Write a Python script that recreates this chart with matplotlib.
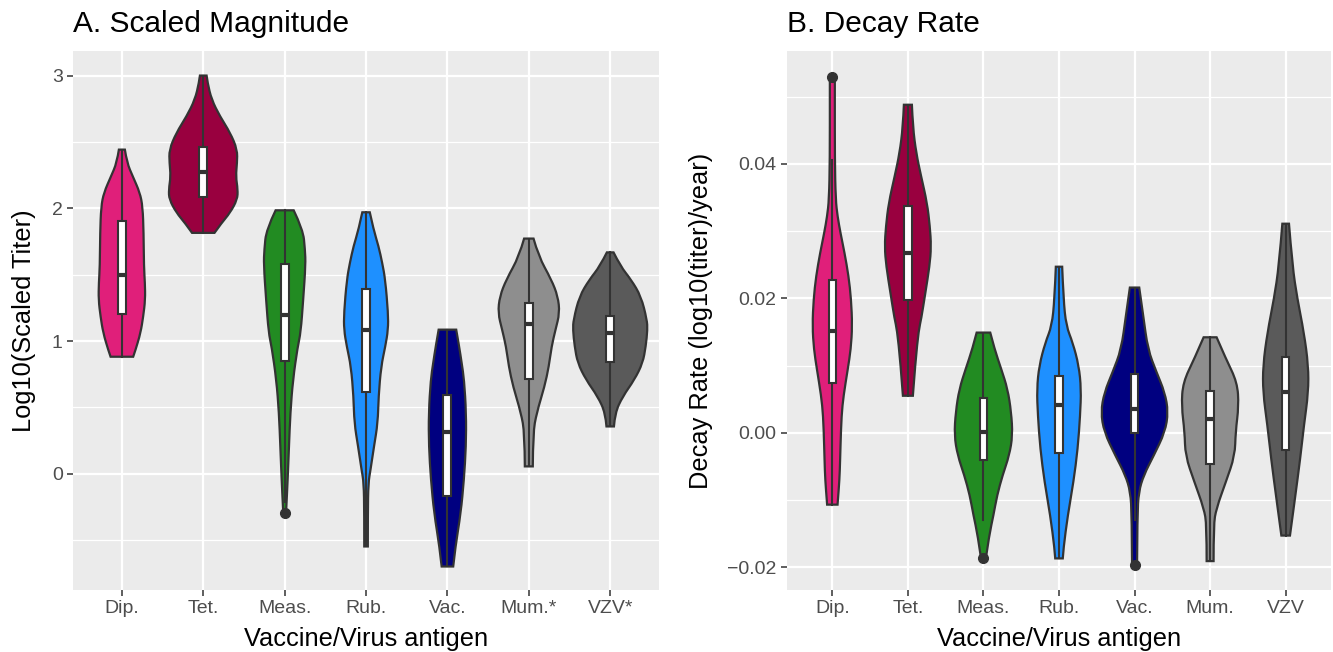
import matplotlib
matplotlib.use('Agg')
import matplotlib.pyplot as plt
from matplotlib.patches import Rectangle, PathPatch
from matplotlib.path import Path
from matplotlib.ticker import FixedLocator

plt.rcParams['font.family'] = ['Liberation Sans', 'DejaVu Sans']

# categories and colours
cats_a = ['Dip.', 'Tet.', 'Meas.', 'Rub.', 'Vac.', 'Mum.*', 'VZV*']
cats_b = ['Dip.', 'Tet.', 'Meas.', 'Rub.', 'Vac.', 'Mum.', 'VZV']
colors = ['#E01F7A', '#99003F', '#228B22', '#1E90FF', '#000080', '#8E8E8E', '#5A5A5A']

# A. violin outlines (y value, half width in category units)
prof_a_y = [
    [2.442, 2.344, 2.239, 2.118, 2.013, 1.817, 1.561, 1.439, 1.312, 1.184, 1.063, 0.935, 0.882],
    [3.0, 2.945, 2.819, 2.693, 2.568, 2.442, 2.342, 2.241, 2.141, 2.066, 1.965, 1.890, 1.815],
    [1.985, 1.840, 1.689, 1.576, 1.312, 1.063, 0.958, 0.709, 0.460, 0.204, -0.044, -0.248, -0.286],
    [1.970, 1.840, 1.714, 1.589, 1.463, 1.212, 1.086, 0.960, 0.809, 0.583, 0.383, 0.207, 0.031, -0.069, -0.293, -0.547],
    [1.086, 0.960, 0.835, 0.709, 0.458, 0.207, -0.044, -0.295, -0.547, -0.698],
    [1.772, 1.639, 1.463, 1.337, 1.212, 1.086, 0.960, 0.809, 0.659, 0.458, 0.307, 0.056],
    [1.668, 1.563, 1.463, 1.337, 1.161, 1.086, 0.960, 0.835, 0.709, 0.583, 0.458, 0.357],
]
prof_a_w = [
    [.037, .062, .135, .221, .255, .267, .271, .283, .287, .262, .230, .169, .139],
    [.041, .053, .102, .205, .332, .418, .415, .400, .424, .418, .328, .225, .138],
    [.111, .225, .250, .257, .228, .197, .160, .102, .070, .053, .037, .021, .018],
    [.046, .092, .154, .199, .236, .271, .271, .237, .185, .154, .144, .098, .055, .028, .022, .022],
    [.108, .144, .175, .205, .230, .228, .203, .164, .098, .071],
    [.058, .119, .277, .357, .379, .328, .280, .246, .194, .096, .052, .049],
    [.041, .127, .256, .379, .451, .458, .437, .400, .298, .154, .059, .046],
]
# whisker low, q1, median, q3, whisker high
box_a = [
    [0.882, 1.207, 1.50, 1.907, 2.442],
    [1.815, 2.083, 2.271, 2.460, 3.0],
    [-0.21, 0.847, 1.199, 1.583, 1.985],
    [-0.547, 0.617, 1.081, 1.393, 1.970],
    [-0.698, -0.165, 0.315, 0.596, 1.086],
    [0.056, 0.714, 1.129, 1.287, 1.772],
    [0.357, 0.840, 1.061, 1.186, 1.668],
]
out_a = [[], [], [-0.295], [], [], [], []]

# B. decay rate
prof_b_y = [
    [0.0530, 0.0505, 0.0406, 0.0347, 0.0322, 0.0297, 0.0268, 0.0233, 0.0199, 0.0159, 0.0124, 0.0095, 0.0055, 0.0026, -0.0019, -0.0058, -0.0083, -0.0107],
    [0.0488, 0.0455, 0.0416, 0.0381, 0.0342, 0.0307, 0.0277, 0.0248, 0.0208, 0.0169, 0.0154, 0.0105, 0.0055],
    [0.0149, 0.0124, 0.0095, 0.0065, 0.0031, -0.0004, -0.0034, -0.0063, -0.0093, -0.0123, -0.0152, -0.0186],
    [0.0247, 0.0199, 0.0159, 0.0134, 0.0100, 0.0065, 0.0026, -0.0024, -0.0073, -0.0123, -0.0172, -0.0187],
    [0.0216, 0.0174, 0.0124, 0.0090, 0.0060, 0.0031, 0.0001, -0.0034, -0.0063, -0.0088, -0.0123, -0.0197],
    [0.0142, 0.0110, 0.0075, 0.0040, 0.0001, -0.0034, -0.0073, -0.0113, -0.0137, -0.0191],
    [0.0311, 0.0248, 0.0199, 0.0149, 0.0100, 0.0060, 0.0011, -0.0039, -0.0098, -0.0153],
]
prof_b_w = [
    [.033, .033, .033, .044, .069, .108, .161, .215, .248, .264, .244, .205, .148, .122, .108, .099, .086, .069],
    [.053, .066, .110, .176, .254, .291, .308, .287, .231, .176, .145, .099, .066],
    [.090, .148, .235, .320, .367, .386, .341, .254, .181, .132, .077, .033],
    [.042, .059, .095, .182, .262, .293, .280, .248, .192, .116, .059, .050],
    [.062, .115, .176, .291, .400, .446, .403, .254, .122, .055, .037, .033],
    [.086, .209, .359, .379, .337, .328, .209, .082, .046, .046],
    [.044, .089, .155, .242, .300, .300, .242, .192, .123, .057],
]
box_b = [
    [-0.0107, 0.00737, 0.0151, 0.0227, 0.0406],
    [0.0055, 0.0197, 0.0267, 0.0337, 0.0488],
    [-0.0130, -0.0040, 0.0001, 0.0052, 0.0149],
    [-0.0187, -0.0030, 0.0042, 0.0084, 0.0247],
    [-0.0130, 0.0000, 0.0035, 0.0087, 0.0216],
    [-0.0191, -0.0046, 0.0020, 0.0062, 0.0142],
    [-0.0153, -0.0025, 0.0061, 0.0113, 0.0311],
]
out_b = [[0.0530], [], [-0.0186], [], [-0.0197], [], []]

yticks_a = [0, 1, 2, 3]
yminor_a = [-0.5, 0.5, 1.5, 2.5]
yticks_b = [-0.02, 0.0, 0.02, 0.04]
yminor_b = [-0.01, 0.01, 0.03, 0.05]

dark = '#333333'


def side(pts):
    # smooth curve through the read points (quadratic pieces between midpoints)
    verts = [pts[0]]
    codes = [Path.LINETO]
    for k in range(1, len(pts) - 1):
        if k < len(pts) - 2:
            end = ((pts[k][0] + pts[k + 1][0]) / 2, (pts[k][1] + pts[k + 1][1]) / 2)
        else:
            end = pts[k + 1]
        verts += [pts[k], end]
        codes += [Path.CURVE3, Path.CURVE3]
    if len(pts) == 2:
        verts.append(pts[1])
        codes.append(Path.LINETO)
    return verts, codes


def violins(ax, py, pw, boxes, outs):
    for i in range(len(py)):
        y = py[i]
        w = pw[i]
        right = [(i + w[k], y[k]) for k in range(len(y))]
        left = [(i - w[k], y[k]) for k in range(len(y))][::-1]
        v1, c1 = side(right)
        v2, c2 = side(left)
        verts = v1 + v2 + [v1[0]]
        codes = [Path.MOVETO] + c1[1:] + c2 + [Path.CLOSEPOLY]
        ax.add_patch(PathPatch(Path(verts, codes), facecolor=colors[i], edgecolor=dark,
                               lw=1.6, zorder=3))
        lo, q1, med, q3, hi = boxes[i]
        ax.plot([i, i], [lo, q1], color=dark, lw=1.5, zorder=4)
        ax.plot([i, i], [q3, hi], color=dark, lw=1.5, zorder=4)
        ax.add_patch(Rectangle((i - 0.05, q1), 0.1, q3 - q1, facecolor='white',
                               edgecolor=dark, lw=1.5, zorder=5))
        ax.plot([i - 0.05, i + 0.05], [med, med], color=dark, lw=3.0,
                solid_capstyle='butt', zorder=6)
        for o in outs[i]:
            ax.plot(i, o, 'o', color=dark, ms=7, zorder=6)


def style(ax, cats, yt, ym, ylabels, ylim, title, ylabel, ypad):
    ax.set_facecolor('#EBEBEB')
    for s in ax.spines.values():
        s.set_visible(False)
    ax.set_xlim(-0.6, len(cats) - 0.4)
    ax.set_ylim(*ylim)
    ax.set_xticks(range(len(cats)))
    ax.set_xticklabels(cats)
    ax.set_yticks(yt)
    ax.set_yticklabels(ylabels)
    ax.yaxis.set_minor_locator(FixedLocator(ym))
    ax.grid(which='major', color='white', lw=1.6, zorder=0)
    ax.grid(which='minor', axis='y', color='white', lw=0.9, zorder=0)
    ax.set_axisbelow(True)
    ax.tick_params(which='major', length=4.5, width=1.1, color=dark, labelsize=14,
                   labelcolor='#4D4D4D', pad=3)
    ax.tick_params(which='minor', length=0)
    ax.set_title(title, loc='left', fontsize=21.5, pad=14)
    ax.set_xlabel('Vaccine/Virus antigen', fontsize=18.3, labelpad=7)
    ax.set_ylabel(ylabel, fontsize=18.3, labelpad=ypad)


fig = plt.figure(figsize=(13.33, 6.52), dpi=100)
ax1 = fig.add_axes([0.0548, 0.0951, 0.4396, 0.8267])
ax2 = fig.add_axes([0.5904, 0.0951, 0.4081, 0.8267])

violins(ax1, prof_a_y, prof_a_w, box_a, out_a)
style(ax1, cats_a, yticks_a, yminor_a, ['0', '1', '2', '3'], (-0.875, 3.185),
      'A. Scaled Magnitude', 'Log10(Scaled Titer)', 11)

violins(ax2, prof_b_y, prof_b_w, box_b, out_b)
style(ax2, cats_b, yticks_b, yminor_b, ['\u22120.02', '0.00', '0.02', '0.04'],
      (-0.0234, 0.0568), 'B. Decay Rate', 'Decay Rate (log10(titer)/year)', 10)

fig.savefig('out.png', dpi=100)
